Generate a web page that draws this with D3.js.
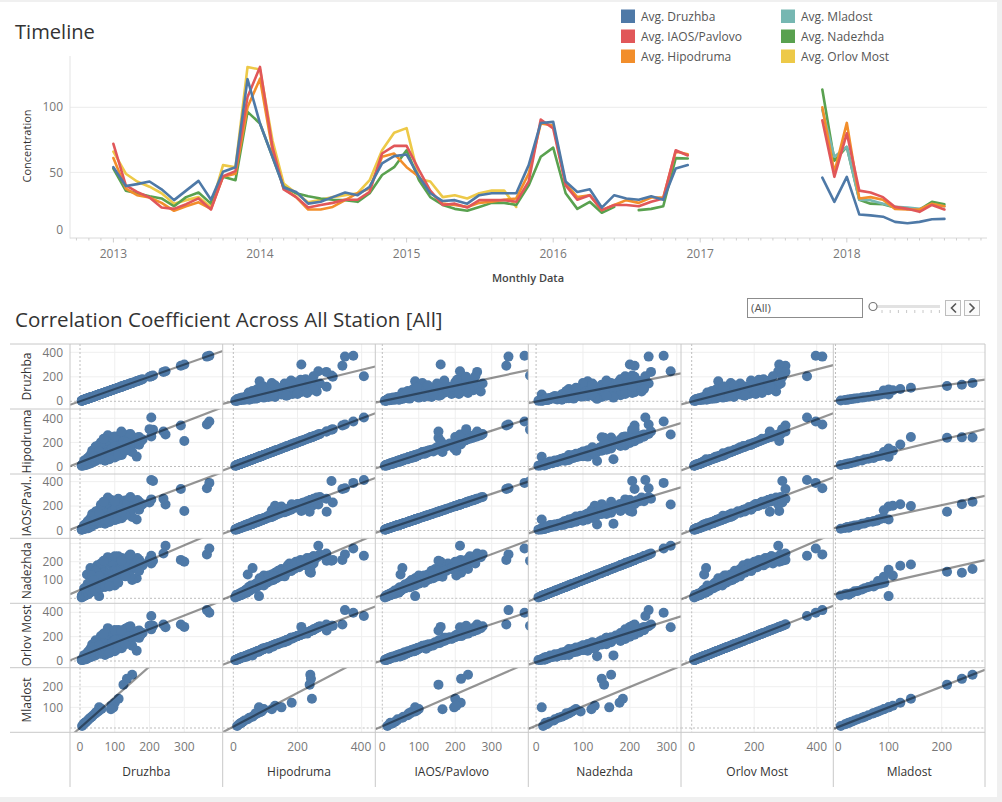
<!DOCTYPE html>
<html><head><meta charset="utf-8">
<script src="https://cdn.jsdelivr.net/npm/d3@7"></script>
<style>
body{margin:0;background:#fff;}
svg{display:block;font-family:"Open Sans",Lato,sans-serif;}
</style></head><body>
<svg id="c" width="1002" height="802"></svg>
<script>
// ---------------- Timeline data (monthly averages, Jan 2013 .. Sep 2018) ----------------
const monthStart = new Date(2013, 0, 1), monthEnd = new Date(2018, 9, 1);
const seriesNames = ["Avg. Druzhba","Avg. IAOS/Pavlovo","Avg. Hipodruma","Avg. Mladost","Avg. Nadezhda","Avg. Orlov Most"];
const seriesColors = ["#4e79a7","#e15759","#f28e2b","#76b7b2","#59a14f","#edc948"];
const avgDruzhba = [
  54,39.5,41,43,37,28.7,36,43.5,29,50.5,54,121.6,
  87.6,62,38.4,35,26,27.4,31,34.5,32.5,39,57,62.5,
  63.7,46.6,34,28,28.7,26,32.5,34,34,34,55.6,88,
  88.8,43,35,37,23,32.5,30,29,31.7,29,53,55.6,
  null,null,null,null,null,null,null,null,null,null,46,27.4,
  46.6,17.7,17,16,12,11,12,14,14.3];
const avgIAOS = [
  72,40,35,30.7,23,22,25.6,30,21.5,47,51,108,
  131,69.6,37,31,23,25,26.6,29,29,35,64.5,70.4,
  70.4,51.7,36,25,26,23,28.7,28.7,28.7,27.4,43,90.6,
  83.7,40,29,32.5,21,25,25,24,27.4,30,67,63,
  null,null,null,null,null,null,null,null,null,null,90,46.6,
  80,36,34.6,31,23.5,22,19.7,25,21.5];
const avgHipodruma = [
  61,37.6,32.5,30.7,26.6,20.5,24,27,22,46.6,49,100,
  122,67,37.6,31,21.5,21.5,23.5,28.7,34,37.6,62,64.5,
  54,46.6,35,26,25,23.5,26.6,27.4,29,30,49,87.6,
  86,41.5,31,32.5,21,25,28.7,26.6,30.7,30.7,66,64,
  null,null,null,null,null,null,null,null,null,null,100,50,
  88,30,31,29,22,21.5,21.5,26,24];
const avgMladost = [
  null,null,null,null,null,null,null,null,null,null,null,null,
  null,null,null,null,null,null,null,null,null,null,null,null,
  null,null,null,null,null,null,null,null,null,null,null,null,
  null,null,null,null,null,null,null,null,null,null,null,null,
  null,null,null,null,null,null,null,null,null,null,98,62,
  69.6,29,28.7,26,23.5,23,22,25.6,24];
const avgNadezhda = [
  53,36,34,31.7,30,24,31,34.5,26,46.6,44,96.5,
  87.6,62,39,34,31.7,30,29,28.7,27.4,34,48,54,
  67,44,31,25,22,20.5,23.5,26.6,26.6,25,40,62,
  69,34,22,27.4,19,23.5,null,21,22,24,61,60.7,
  null,null,null,null,null,null,null,null,null,null,113.7,59,
  69.6,29,26,25.6,23,22,21.5,27.4,25.6];
const avgOrlovMost = [
  66,49,43,39,34,26,28.7,31,23.5,55.6,54,131,
  129,74.7,41.5,34,27,29,31,32.5,34,44,67,80.4,
  84,45,43,31,32.5,30,34,36,36,23.5,null,null,
  null,null,null,null,null,null,null,null,null,null,null,null,
  null,null,null,null,null,null,null,null,null,null,null,null,
  null,null,null,null,null,null,null,null,null];
const yearTicks = [2013,2014,2015,2016,2017,2018];
const concTicks = [0,50,100];

// ---------------- Daily station values (aligned by observation day) ----------------
const stationNames = ["Druzhba","Hipodruma","IAOS/Pavlovo","Nadezhda","Orlov Most","Mladost"];
const rowLabels = ["Druzhba","Hipodruma","IAOS/Pavl..","Nadezhda","Orlov Most","Mladost"];
// first 25 days: 2018 days (Mladost running, Orlov Most offline)
const druzhba = [
  150,135,125,111,100,96,90,89,55,6,10,14,18,22,25,30,34,38,44,48,55,62,52,45,12,
  8,12,5,15,20,10,18,25,14,30,22,35,28,18,40,35,45,25,55,40,60,30,70,50,80,45,65,90,35,75,
  55,100,70,120,85,60,130,95,110,75,140,100,160,120,90,150,170,110,180,130,
  6,9,16,22,12,27,33,20,48,38,62,52,85,42,95,68,105,50,115,80,140,60,25,15,72,163,150,120,100,145,30,20,
  5,7,11,18,24,28,32,38,44,50,58,65,72,78,88,92,102,108,118,125,135,155,165,60,45,35,22,12,85,110,130,170,175,145,100,68,55,40,
  365,372,205,210,290,300,246,240,119,200,205];
const hipodruma = [
  240,242,238,245,182,150,130,120,80,12,18,25,30,35,45,50,60,65,75,85,90,95,88,70,22,
  10,15,8,20,18,25,30,28,35,40,42,38,50,48,55,65,70,75,80,90,85,95,100,110,105,120,125,115,130,135,
  150,145,160,165,175,185,180,195,200,210,205,220,215,230,240,235,245,250,225,255,
  12,18,22,26,32,35,45,60,62,78,72,88,92,102,125,140,155,170,190,260,265,110,55,40,48,82,120,95,75,160,60,45,
  6,14,9,12,20,38,28,52,44,68,58,82,95,118,132,150,168,140,178,210,200,190,240,200,165,110,70,50,60,90,130,180,210,270,250,230,125,85,
  348,374,407,306,340,212,265,290,291,310,250];
const iaosPavlovo = [
  235,216,154,200,215,197,203,165,90,14,20,22,35,40,42,55,58,70,72,80,95,100,90,78,28,
  12,14,9,18,22,22,28,32,30,38,45,42,48,44,52,60,75,70,78,85,92,100,95,105,115,125,118,120,135,140,
  145,150,170,160,180,190,175,200,210,215,200,230,225,240,250,230,235,260,215,245,
  10,20,25,24,35,38,40,55,66,72,80,95,88,98,130,150,160,160,185,270,255,120,60,48,55,90,110,100,85,150,55,50,
  7,11,13,16,18,34,30,48,50,62,62,88,90,110,128,158,175,135,190,205,218,200,250,210,155,115,75,45,70,95,125,170,205,275,240,235,140,80,
  346,390,414,405,340,160,213,260,154,230,255];
const nadezhda = [
  160,140,145,185,178,156,125,118,12,15,22,20,28,38,40,48,55,62,70,75,80,85,95,65,25,
  9,13,10,16,25,18,22,30,28,35,30,45,40,50,48,55,60,65,70,95,75,80,90,120,85,130,100,95,140,110,
  160,120,150,140,190,170,150,200,180,210,170,190,200,220,200,190,210,230,180,215,
  14,15,20,28,25,32,42,52,58,85,65,100,78,110,105,125,135,180,160,225,230,115,70,45,62,110,100,125,70,120,165,130,
  5,12,18,20,22,42,35,60,40,75,55,90,70,105,115,145,155,150,165,185,195,175,220,190,150,125,80,55,65,85,120,150,195,240,230,205,120,100,
  240,272,233,205,210,200,287,245,205,210,190];
const orlovMost = [
  null,null,null,null,null,null,null,null,null,null,null,null,null,null,null,null,null,null,null,null,null,null,null,null,null,
  11,17,9,22,20,28,32,30,38,42,45,40,55,52,58,70,72,80,85,95,88,100,105,115,110,125,130,120,135,140,
  155,150,165,170,180,185,190,200,205,215,210,225,220,235,245,240,250,255,230,265,
  13,16,24,30,30,36,48,62,60,75,78,90,95,108,120,145,160,165,195,270,280,100,50,38,50,85,125,105,80,155,46,40,
  8,15,10,14,24,36,33,50,46,70,60,80,98,115,135,148,172,138,182,215,205,195,245,205,170,112,72,48,65,100,135,190,215,285,255,225,128,90,
  418,397,369,290,300,280,277,300,250,290,260];
const mladost = [
  258,238,210,142,122,100,108,91,100,10,18,25,30,36,42,50,55,62,70,78,85,92,80,72,22];
const stationValues = [druzhba, hipodruma, iaosPavlovo, nadezhda, orlovMost, mladost];

// axis domains & ticks of the matrix
const colDomains = [[-28.8,410.4],[-33.1,442.6],[-19.2,400.3],[-16.6,309],[-34.2,453.1],[-4.1,281.5]];
const rowDomains = [[-62.9,467.8],[-62.2,477.2],[-64,463],[-27.3,327.9],[-55,473.9],[-20.8,292]];
const colTicks = [[0,100,200,300],[0,200,400],[0,100,200,300],[0,100,200,300],[0,200,400],[0,100,200]];
const rowTicks = [[0,200,400],[0,200,400],[0,200,400],[100,200],[0,200,400],[100,200]];
const rowGrid = [[200,400],[200,400],[200,400],[100,200,300],[200,400],[100,200]];

// ---------------- drawing ----------------
const svg = d3.select("#c");
svg.append("rect").attr("width",1002).attr("height",802).attr("fill","#f0f0f0");
svg.append("rect").attr("x",0).attr("y",2).attr("width",997).attr("height",795).attr("fill","#fff");

function fitTitle(sel, target){
  const w = sel.node().getComputedTextLength();
  const fs = +sel.attr("font-size");
  sel.attr("font-size", fs*target/w);
}

// ===== Timeline =====
const t1 = svg.append("text").attr("x",15).attr("y",39).attr("font-size",19).attr("fill","#333").text("Timeline");
fitTitle(t1, 80);
const tL=70, tR=987, tT=56, tB=237.5;
const tx = d3.scaleTime().domain([new Date(2012,8,15), new Date(2018,11,16)]).range([tL,tR]);
const ty = d3.scaleLinear().domain([0,139.4]).range([tB,tT]);
const tl = svg.append("g");
concTicks.filter(v=>v>0).forEach(v=>{
  tl.append("line").attr("x1",tL).attr("x2",tR).attr("y1",ty(v)).attr("y2",ty(v)).attr("stroke","#ececec");
});
tl.append("line").attr("x1",tL).attr("x2",tL).attr("y1",tT).attr("y2",tB+1).attr("stroke","#e3e3e3");
tl.append("line").attr("x1",tL).attr("x2",tR).attr("y1",tB+0.5).attr("y2",tB+0.5).attr("stroke","#dadada");
d3.timeMonth.range(new Date(2012,9,1), new Date(2018,11,2)).forEach(d=>{
  const yr = d.getMonth()===0;
  tl.append("line").attr("x1",tx(d)).attr("x2",tx(d)).attr("y1",tB+0.5).attr("y2",tB+(yr?5:3))
    .attr("stroke","#cfcfcf");
});
yearTicks.forEach(y=>{
  tl.append("text").attr("x",tx(new Date(y,0,1))).attr("y",258).attr("text-anchor","middle")
    .attr("font-size",12).attr("fill","#777").text(y);
});
concTicks.forEach(v=>{
  tl.append("text").attr("x",63).attr("y",Math.min(ty(v),tB-8)).attr("dy","0.35em").attr("text-anchor","end")
    .attr("font-size",12).attr("fill","#777").text(v);
});
tl.append("text").attr("transform","translate(31,146) rotate(-90)").attr("text-anchor","middle")
  .attr("font-size",11).attr("fill","#333").text("Concentration");
tl.append("text").attr("x",528).attr("y",282).attr("text-anchor","middle")
  .attr("font-size",11).attr("font-weight",600).attr("fill","#444").text("Monthly Data");

const months = d3.timeMonth.range(monthStart, monthEnd);
const monthly = [avgDruzhba, avgIAOS, avgHipodruma, avgMladost, avgNadezhda, avgOrlovMost];
const line = d3.line().defined(d=>d.v!=null).x(d=>tx(d.m)).y(d=>ty(d.v));
[5,4,3,2,1,0].forEach(i=>{
  const pts = months.map((m,k)=>({m, v: monthly[i][k]}));
  tl.append("path").attr("d",line(pts)).attr("fill","none").attr("stroke",seriesColors[i])
    .attr("stroke-width",2.6).attr("stroke-linejoin","round").attr("stroke-linecap","round");
});
const lg = svg.append("g");
seriesNames.forEach((n,i)=>{
  const col = Math.floor(i/3), row = i%3;
  const x = 621 + col*160, y = 9.5 + row*20;
  lg.append("rect").attr("x",x).attr("y",y).attr("width",14).attr("height",13.5).attr("fill",seriesColors[i]);
  lg.append("text").attr("x",x+20).attr("y",y+7).attr("dy","0.35em").attr("font-size",12)
    .attr("fill","#555").text(n);
});

// ===== Correlation matrix =====
const t2 = svg.append("text").attr("x",15).attr("y",327).attr("font-size",19).attr("fill","#333")
  .text("Correlation Coefficient Across All Station [All]");
fitTitle(t2, 428);
const ctl = svg.append("g");
ctl.append("rect").attr("x",747.5).attr("y",298.5).attr("width",115).attr("height",19).attr("fill","#fff").attr("stroke","#8c8c8c");
ctl.append("text").attr("x",751).attr("y",308).attr("dy","0.35em").attr("font-size",11.5).attr("fill","#555").text("(All)");
ctl.append("line").attr("x1",873).attr("x2",940).attr("y1",306.5).attr("y2",306.5).attr("stroke","#e2e2e2").attr("stroke-width",3);
d3.range(8).forEach(k=>{
  const x = 882 + k*8.2;
  ctl.append("line").attr("x1",x).attr("x2",x).attr("y1",310).attr("y2",313).attr("stroke","#c8c8c8");
});
ctl.append("circle").attr("cx",873).attr("cy",306.5).attr("r",4).attr("fill","#fff").attr("stroke","#777").attr("stroke-width",1.2);
[[945.5,"M956,303.5 L951.5,308 L956,312.5"],[964.5,"M969.5,303.5 L974,308 L969.5,312.5"]].forEach(([x,p])=>{
  ctl.append("rect").attr("x",x).attr("y",300.5).attr("width",15).attr("height",15).attr("fill","#fafafa").attr("stroke","#bdbdbd");
  ctl.append("path").attr("d",p).attr("fill","none").attr("stroke","#555").attr("stroke-width",1.6);
});

const colEdges = [70,222.7,375.3,528.3,681,833.3,985];
const rowEdges = [344,409,474,538.3,603.3,667.7,732.3];
const xs = colDomains.map((d,c)=>d3.scaleLinear().domain(d).range([colEdges[c],colEdges[c+1]]));
const ys = rowDomains.map((d,r)=>d3.scaleLinear().domain(d).range([rowEdges[r+1],rowEdges[r]]));
const nDays = druzhba.length;
const val = (arr,i)=> (arr[i]==null ? null : arr[i]);
const mx = svg.append("g");
const defs = svg.append("defs");
const ptColor = "#4e79a7";

for(let r=0;r<6;r++){
  for(let c=0;c<6;c++){
    const x0=colEdges[c], x1=colEdges[c+1], y0=rowEdges[r], y1=rowEdges[r+1];
    const id = `clip${r}_${c}`;
    defs.append("clipPath").attr("id",id).append("rect").attr("x",x0).attr("y",y0).attr("width",x1-x0).attr("height",y1-y0);
    const g = mx.append("g").attr("clip-path",`url(#${id})`);
    const X = xs[c], Y = ys[r];
    colTicks[c].filter(v=>v!==0).forEach(v=>{
      g.append("line").attr("x1",X(v)).attr("x2",X(v)).attr("y1",y0).attr("y2",y1).attr("stroke","#efefef");
    });
    rowGrid[r].forEach(v=>{
      g.append("line").attr("x1",x0).attr("x2",x1).attr("y1",Y(v)).attr("y2",Y(v)).attr("stroke","#efefef");
    });
    g.append("line").attr("x1",X(0)).attr("x2",X(0)).attr("y1",y0).attr("y2",y1)
      .attr("stroke","#bdbdbd").attr("stroke-dasharray","2,2");
    g.append("line").attr("x1",x0).attr("x2",x1).attr("y1",Y(0)).attr("y2",Y(0))
      .attr("stroke","#bdbdbd").attr("stroke-dasharray","2,2");
    const pts = [];
    for(let i=0;i<nDays;i++){
      const a = val(stationValues[c],i), b = val(stationValues[r],i);
      if(a!=null && b!=null) pts.push([a,b]);
    }
    g.selectAll("circle.p").data(pts).enter().append("circle").attr("class","p")
      .attr("cx",d=>X(d[0])).attr("cy",d=>Y(d[1])).attr("r",5).attr("fill",ptColor);
    if(pts.length>2){
      const mxv = d3.mean(pts,d=>d[0]), myv = d3.mean(pts,d=>d[1]);
      let sxy=0,sxx=0;
      pts.forEach(d=>{sxy+=(d[0]-mxv)*(d[1]-myv); sxx+=(d[0]-mxv)**2;});
      const b = sxy/sxx, a = myv-b*mxv;
      const [dx0,dx1] = colDomains[c];
      g.append("line").attr("x1",X(dx0)).attr("x2",X(dx1)).attr("y1",Y(a+b*dx0)).attr("y2",Y(a+b*dx1))
        .attr("stroke","rgba(0,0,0,0.42)").attr("stroke-width",2.2);
    }
  }
}
rowEdges.forEach(y=>{
  mx.append("line").attr("x1",10).attr("x2",985).attr("y1",y).attr("y2",y).attr("stroke","#c8c8c8");
});
colEdges.forEach(x=>{
  mx.append("line").attr("x1",x).attr("x2",x).attr("y1",344).attr("y2",787).attr("stroke","#c8c8c8");
});
rowLabels.forEach((n,r)=>{
  const cy = (rowEdges[r]+rowEdges[r+1])/2;
  mx.append("text").attr("transform",`translate(31,${cy}) rotate(-90)`).attr("text-anchor","middle")
    .attr("font-size",12).attr("fill","#333").text(n);
  rowTicks[r].forEach(v=>{
    mx.append("text").attr("x",63).attr("y",ys[r](v)).attr("dy","0.35em").attr("text-anchor","end")
      .attr("font-size",12).attr("fill","#777").text(v);
  });
});
stationNames.forEach((n,c)=>{
  const cx = (colEdges[c]+colEdges[c+1])/2;
  mx.append("text").attr("x",cx).attr("y",776).attr("text-anchor","middle")
    .attr("font-size",12).attr("fill","#333").text(n);
  colTicks[c].forEach(v=>{
    const t = mx.append("text").attr("y",751).attr("text-anchor","middle")
      .attr("font-size",12).attr("fill","#777").text(v);
    const w = t.node().getComputedTextLength();
    let x = xs[c](v);
    x = Math.max(x, colEdges[c]+w/2+1.5);
    x = Math.min(x, colEdges[c+1]-w/2-4);
    t.attr("x",x);
  });
});
</script>
</body></html>
